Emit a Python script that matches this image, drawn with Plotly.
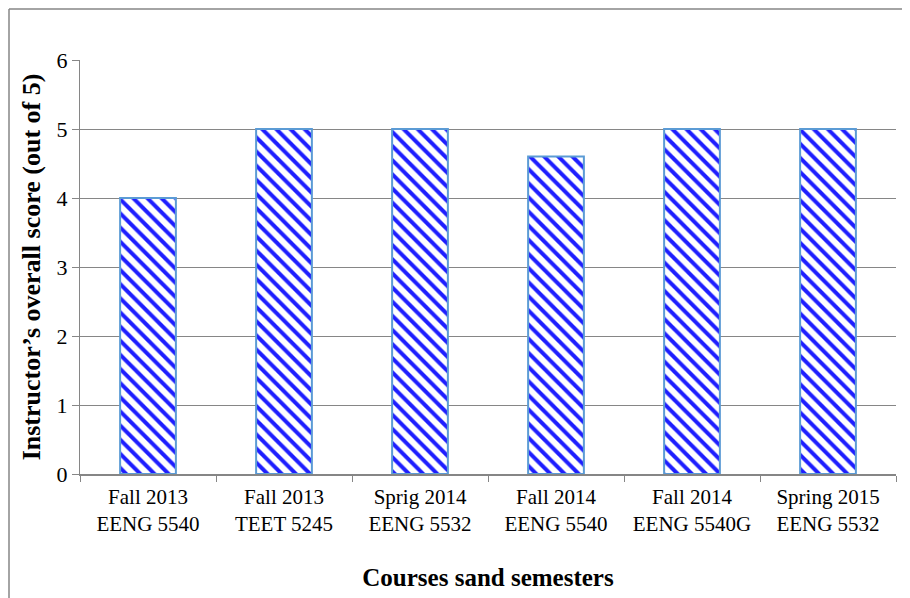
import plotly.graph_objects as go

categories = [
    "Fall 2013<br>EENG 5540",
    "Fall 2013<br>TEET 5245",
    "Sprig 2014<br>EENG 5532",
    "Fall 2014<br>EENG 5540",
    "Fall 2014<br>EENG 5540G",
    "Spring 2015<br>EENG 5532",
]
scores = [4, 5, 5, 4.6, 5, 5]
y_ticks = [0, 1, 2, 3, 4, 5, 6]

# the page body adds an 8px offset, so the figure is sized to compensate
OFF = 8
W, H = 910 - OFF, 598 - OFF
L, R, T, B = 80 - OFF, 14, 60 - OFF, 124
pw, ph = W - L - R, H - T - B

def px(x):
    return (x - OFF - L) / pw

def py(y):
    return (H - B - (y - OFF)) / ph

fig = go.Figure(
    go.Bar(
        x=categories,
        y=scores,
        width=0.41,
        marker=dict(
            color="white",
            line=dict(color="#5B9BD5", width=2),
            pattern=dict(shape="\\", fgcolor="#1E1EFF", bgcolor="white",
                         size=10, solidity=0.4, fillmode="replace"),
        ),
    )
)

font = "Liberation Serif, Times New Roman, serif"
fig.update_layout(
    width=W, height=H,
    margin=dict(l=L, r=R, t=T, b=B, pad=0),
    paper_bgcolor="white", plot_bgcolor="white",
    showlegend=False,
    font=dict(family=font, color="black", size=21),
    xaxis=dict(
        showline=True, linecolor="#868686", linewidth=1.5,
        ticks="outside", ticklen=6, tickcolor="#868686", tickson="boundaries",
        ticklabelstandoff=3,
        tickfont=dict(size=21, family=font),
        title=dict(text="<b>Courses sand semesters</b>", font=dict(size=25, family=font), standoff=33),
    ),
    yaxis=dict(
        range=[0, 6], tickvals=y_ticks,
        showgrid=True, gridcolor="#868686", gridwidth=1,
        showline=True, linecolor="#868686", linewidth=1,
        ticks="outside", ticklen=7, tickcolor="#868686",
        tickfont=dict(size=22, family=font),
        title=dict(text="<b>Instructor’s overall score (out of 5)</b>", font=dict(size=26, family=font), standoff=8),
        zeroline=False,
    ),
    shapes=[
        dict(type="line", xref="paper", yref="paper", x0=px(9), x1=px(912), y0=py(9), y1=py(9),
             line=dict(color="#868686", width=1.5)),
        dict(type="line", xref="paper", yref="paper", x0=px(9), x1=px(9), y0=py(9), y1=py(600),
             line=dict(color="#868686", width=1.5)),
    ],
)

fig.write_html("out.html")
